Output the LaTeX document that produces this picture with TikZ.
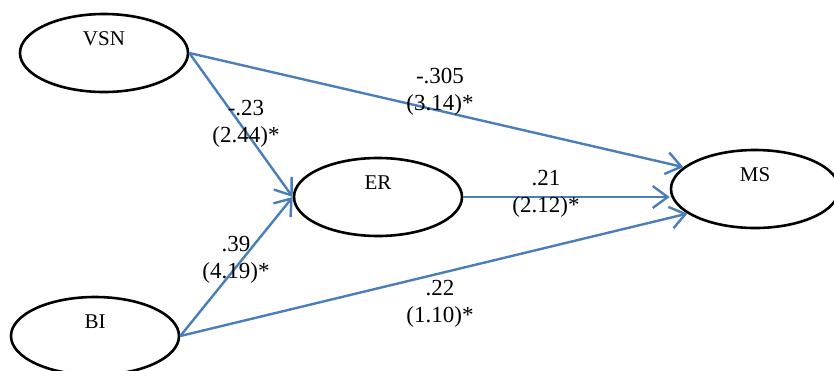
\documentclass[tikz,border=0pt]{standalone}
\usepackage{fontspec}
\setmainfont{Liberation Serif}
\usetikzlibrary{shapes.geometric,arrows.meta}
\definecolor{SemBlue}{HTML}{4A7EBB}

\begin{document}
\begin{tikzpicture}[x=1pt,y=-1pt,
  latent/.style={ellipse,draw=black,line width=2.6pt,minimum width=168pt,minimum height=78pt,
                 text height=15pt,text depth=31pt,font=\fontsize{21}{25}\selectfont},
  arr/.style={-{Straight Barb[length=15pt,width=22pt]},line width=2.4pt,SemBlue},
  coef/.style={align=center,inner sep=0pt,font=\fontsize{23}{27}\selectfont}]
  \useasboundingbox (0,0) rectangle (834,370);
  % latent variables
  \node[latent] (vsn) at (104,53) {VSN};
  \node[latent] (bi) at (95,336) {BI};
  \node[latent] (er) at (378,197) {ER};
  \node[latent] (ms) at (755,189) {MS};
  % paths
  \draw[arr] (vsn.east) -- (er.west);
  \draw[arr] (bi.east) -- (er.west);
  \draw[arr] (vsn.east) -- (ms.163);
  \draw[arr] (er.east) -- (er.east -| ms.west);
  \draw[arr] (bi.east) -- (ms.200);
  % coefficients
  \node[coef] (c1) at (246,124) {-.23\\(2.44)*};
  \node[coef] (c2) at (236,260) {.39\\(4.19)*};
  \node[coef] (c3) at (440,92) {-.305\\(3.14)*};
  \node[coef] (c4) at (546,194) {.21\\(2.12)*};
  \node[coef] (c5) at (440,304) {.22\\(1.10)*};
\end{tikzpicture}
\end{document}
